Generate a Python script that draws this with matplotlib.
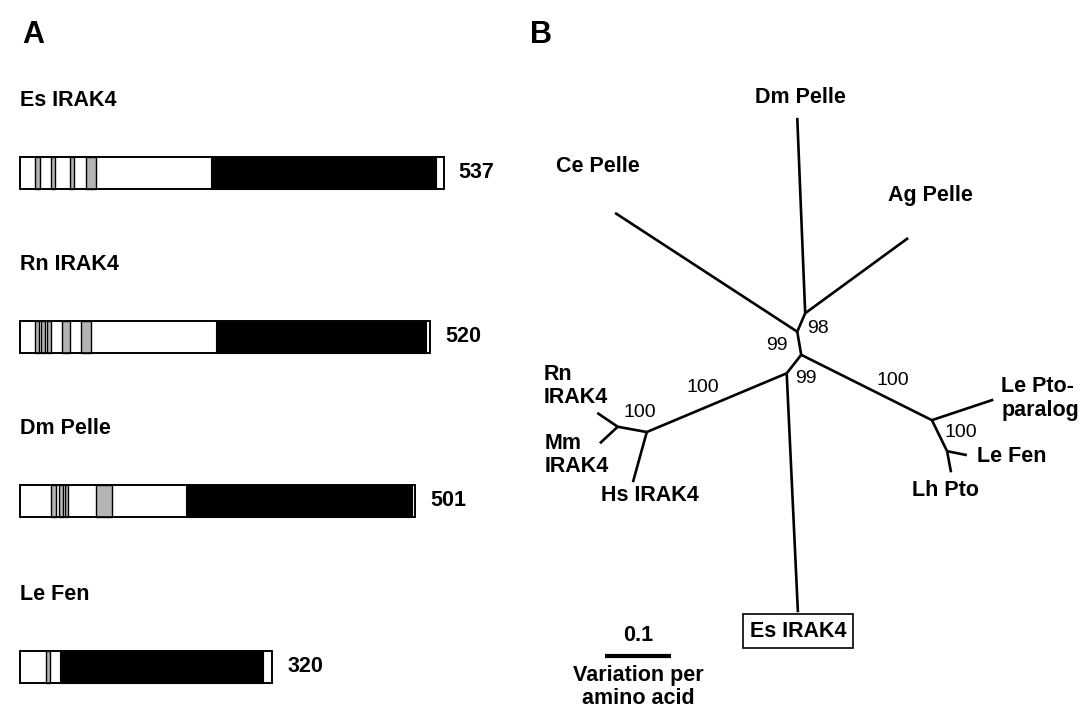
import matplotlib.pyplot as plt

plt.rcParams['font.family'] = ['Liberation Sans', 'DejaVu Sans']

W, H = 1086, 709

# ------------------------------
# Panel A data: domain map (amino acid positions)
# ------------------------------
proteins = ["Es IRAK4", "Rn IRAK4", "Dm Pelle", "Le Fen"]
lengths = [537, 520, 501, 320]
kinase_start = [242, 249, 211, 51]
kinase_end = [527, 514, 497, 308]
gray_boxes = [
    [(19, 25), (39, 44), (63, 69), (84, 96)],
    [(19, 23.5), (27, 31.5), (34, 39), (53, 63.5), (77, 90)],
    [(39, 46), (49.5, 54), (57, 61), (96, 117)],
    [(33, 38)],
]

# ------------------------------
# Panel B data: unrooted tree (variation per amino acid)
# ------------------------------
node_names = ["N1", "N2", "N3", "N4", "N5", "N6", "N7", "N8",
              "Dm", "Ag", "Ce", "LePto", "LeFen", "LhPto", "Rn", "Mm", "Hs", "Es"]
node_x = [0.023, 0.011, 0.017, -0.005, 0.215, 0.238, -0.217, -0.261,
          0.011, 0.179, -0.265, 0.308, 0.268, 0.244, -0.292, -0.288, -0.238, 0.012]
node_y = [0.086, 0.058, 0.023, -0.005, -0.076, -0.123, -0.094, -0.086,
          0.382, 0.200, 0.238, -0.045, -0.129, -0.155, -0.065, -0.111, -0.170, -0.367]
edges = [("N1", "Dm"), ("N1", "Ag"), ("N1", "N2"), ("N2", "Ce"), ("N2", "N3"),
         ("N3", "N5"), ("N3", "N4"), ("N5", "LePto"), ("N5", "N6"),
         ("N6", "LeFen"), ("N6", "LhPto"), ("N4", "Es"), ("N4", "N7"),
         ("N7", "N8"), ("N7", "Hs"), ("N8", "Rn"), ("N8", "Mm")]
tip_labels = {"Dm": "Dm Pelle", "Ag": "Ag Pelle", "Ce": "Ce Pelle",
              "LePto": "Le Pto-\nparalog", "LeFen": "Le Fen", "LhPto": "Lh Pto",
              "Rn": "Rn\nIRAK4", "Mm": "Mm\nIRAK4", "Hs": "Hs IRAK4", "Es": "Es IRAK4"}
bootstrap = [98, 99, 99, 100, 100, 100, 100]
bootstrap_at = [("N1", "N1"), ("N2", "N2"), ("N4", "N4"), ("N4", "N7"),
                ("N8", "N8"), ("N3", "N5"), ("N5", "N5")]

pos = dict(zip(node_names, zip(node_x, node_y)))

fig = plt.figure(figsize=(W / 100, H / 100), dpi=100)

# ------------------------------
# Panel A
# ------------------------------
SCALE = 0.789  # px per residue
axA = fig.add_axes([0, 0, 1, 1])
axA.set_xlim(-20 / SCALE, (W - 20) / SCALE)
axA.set_ylim(H, 0)
axA.axis('off')

row_y = [173, 337, 501, 667]
bar_h = 32
for i, name in enumerate(proteins):
    y = row_y[i]
    axA.barh(y, lengths[i], left=0, height=bar_h, color='white',
             edgecolor='black', lw=1.2, zorder=1)
    axA.barh(y, kinase_end[i] - kinase_start[i], left=kinase_start[i],
             height=bar_h, color='black', edgecolor='black', lw=0.8, zorder=2)
    for a, b in gray_boxes[i]:
        axA.barh(y, b - a, left=a, height=bar_h, color='#b4b4b4',
                 edgecolor='black', lw=1.0, zorder=3)
    axA.barh(y, lengths[i], left=0, height=bar_h, fill=False,
             edgecolor='black', lw=1.2, zorder=4)
    axA.text(0, y - 72, name, fontsize=15.5, fontweight='bold',
             ha='left', va='center')
    axA.text(lengths[i] + 15 / SCALE, y, str(lengths[i]), fontsize=15.5,
             fontweight='bold', ha='left', va='center')

fig.text(22 / W, 1 - 35 / H, "A", fontsize=22, fontweight='bold', va='center')
fig.text(530 / W, 1 - 35 / H, "B", fontsize=22, fontweight='bold', va='center')

# ------------------------------
# Panel B
# ------------------------------
PX = 660  # px per unit of variation
axB = fig.add_axes([0, 0, 1, 1])
axB.set_xlim(-790 / PX, (W - 790) / PX)
axB.set_ylim((370 - H) / PX, 370 / PX)
axB.set_aspect('equal')
axB.axis('off')
axB.patch.set_alpha(0)

for a, b in edges:
    axB.plot([pos[a][0], pos[b][0]], [pos[a][1], pos[b][1]],
             color='black', lw=1.9, solid_capstyle='butt')

label_off = {"Dm": (3, -20, 'center'), "Ag": (22, -43, 'center'),
             "Ce": (-17, -46, 'center'), "LePto": (8, -1, 'left'),
             "LeFen": (10, 1, 'left'), "LhPto": (-6, 18, 'center'),
             "Rn": (-54, -27, 'left'), "Mm": (-55, 12, 'left'),
             "Hs": (17, 13, 'center'), "Es": (0, 19, 'center')}
for key, text in tip_labels.items():
    dx, dy, ha = label_off[key]
    kw = {}
    if key == "Es":
        kw['bbox'] = dict(boxstyle='square,pad=0.3', fc='white', ec='black', lw=1.2)
    axB.annotate(text, pos[key], xytext=(dx, -dy), textcoords='offset pixels',
                 fontsize=15.5, fontweight='bold', ha=ha, va='center',
                 linespacing=1.15, **kw)

boot_off = [(13, 15), (-20, 14), (19, 5), (-14, -15), (22, -14), (26, -7), (29, 12)]
for val, (a, b), (dx, dy) in zip(bootstrap, bootstrap_at, boot_off):
    x = (pos[a][0] + pos[b][0]) / 2
    y = (pos[a][1] + pos[b][1]) / 2
    axB.annotate(str(val), (x, y), xytext=(dx, -dy), textcoords='offset pixels',
                 fontsize=14, ha='center', va='center')

# scale bar
sb_x, sb_y = -0.280, -0.433
axB.plot([sb_x, sb_x + 0.1], [sb_y, sb_y], color='black', lw=3, solid_capstyle='butt')
axB.annotate("0.1", (sb_x + 0.05, sb_y), xytext=(0, 20), textcoords='offset pixels',
             fontsize=15.5, fontweight='bold', ha='center', va='center')
axB.annotate("Variation per\namino acid", (sb_x + 0.05, sb_y), xytext=(0, -31),
             textcoords='offset pixels', fontsize=15.5, fontweight='bold',
             ha='center', va='center', linespacing=1.15)

fig.savefig('out.png', dpi=100)
